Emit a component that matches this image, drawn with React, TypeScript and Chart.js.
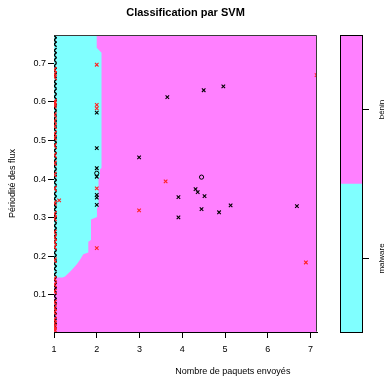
import React, { useEffect, useRef } from "react";
import { Chart, registerables } from "chart.js";

Chart.register(...registerables);

const FONT = "'Liberation Sans', Arial, Helvetica, sans-serif";
const CYAN = "#80FFFF";
const MAGENTA = "#FF80FF";
const BLACK = "#000000";
const RED = "#FF2020";

const titleText = "Classification par SVM";
const xLabel = "Nombre de paquets envoyés";
const yLabel = "Périodité des flux";
const xTicks = [1, 2, 3, 4, 5, 6, 7];
const yTicks = [0.1, 0.2, 0.3, 0.4, 0.5, 0.6, 0.7];
const xRange = [1, 7.15];
const yRange = [0.004, 0.773];

const classNames = ["malware", "bénin"];
const classShare = [1, 1];

// decision region (malware) boundary
const boundaryX = [0.99, 1.999, 1.999, 2.111, 2.111, 2.076, 2.076, 2.041, 2.041, 2.006, 2.006, 1.865, 1.865, 1.802, 1.802, 1.685, 1.6, 1.538, 1.45, 1.374, 1.257, 1.2, 0.99];
const boundaryY = [0.78, 0.78, 0.74, 0.727, 0.429, 0.425, 0.405, 0.4, 0.328, 0.325, 0.302, 0.295, 0.242, 0.238, 0.21, 0.205, 0.19, 0.18, 0.169, 0.16, 0.148, 0.145, 0.145];

// support vectors, class "malware" (black x)
const svBlackX = [2.0, 2.0, 2.0, 2.0, 2.0, 2.0, 2.0, 3.65, 2.99, 4.5, 4.96, 4.31, 4.36, 4.52, 4.45, 4.86, 5.13, 6.68, 3.91, 3.91];
const svBlackY = [0.572, 0.48, 0.428, 0.406, 0.359, 0.352, 0.333, 0.612, 0.456, 0.63, 0.64, 0.374, 0.366, 0.356, 0.322, 0.314, 0.332, 0.33, 0.353, 0.301];
// support vectors, class "bénin" (red x)
const svRedX = [2.0, 2.0, 2.0, 2.0, 2.0, 1.12, 3.61, 2.99, 6.89, 7.14];
const svRedY = [0.696, 0.592, 0.583, 0.376, 0.221, 0.345, 0.394, 0.319, 0.184, 0.669];
// other observations (o)
const obsBlackX = [4.45, 2.0];
const obsBlackY = [0.405, 0.415];

// observations stacked at x = 1
const edgeX = 1;
const edgeBlackY = [0.772, 0.76, 0.749, 0.733, 0.721, 0.708, 0.693, 0.681, 0.668, 0.652, 0.641, 0.627, 0.613, 0.598, 0.584, 0.571, 0.557, 0.543, 0.529, 0.514, 0.501, 0.489, 0.474, 0.46, 0.447, 0.433, 0.419, 0.404, 0.391, 0.377, 0.362, 0.349, 0.333, 0.321, 0.306, 0.293, 0.279, 0.266, 0.251, 0.238, 0.223, 0.209, 0.196, 0.181, 0.168, 0.153, 0.139, 0.124, 0.113, 0.097, 0.085, 0.071, 0.058, 0.046, 0.032, 0.02];
const edgeRedY = [0.683, 0.672, 0.664, 0.601, 0.596, 0.59, 0.566, 0.55, 0.537, 0.518, 0.507, 0.486, 0.462, 0.441, 0.412, 0.375, 0.338, 0.31, 0.298, 0.262, 0.248, 0.236, 0.224, 0.19, 0.142, 0.127, 0.109, 0.081, 0.066, 0.055, 0.036, 0.027, 0.018, 0.011, 0.006];

const pts = (xs: number[], ys: number[]) => xs.map((x, i) => ({ x, y: ys[i] }));
const edgePts = (ys: number[]) => ys.map((y) => ({ x: edgeX, y }));

export default function App() {
  const mainRef = useRef<HTMLCanvasElement>(null);
  const barRef = useRef<HTMLCanvasElement>(null);

  useEffect(() => {
    const bgPlugin = {
      id: "bgPlugin",
      beforeDatasetsDraw(chart: any) {
        const { ctx, chartArea: a } = chart;
        ctx.save();
        ctx.fillStyle = MAGENTA;
        ctx.fillRect(a.left, a.top, a.right - a.left, a.bottom - a.top);
        ctx.restore();
      },
      afterDatasetsDraw(chart: any) {
        const { ctx, chartArea: a } = chart;
        ctx.save();
        ctx.strokeStyle = "#3a3a3a";
        ctx.lineWidth = 1;
        ctx.beginPath();
        ctx.moveTo(a.left + 0.5, a.top + 0.5);
        ctx.lineTo(a.right - 0.5, a.top + 0.5);
        ctx.lineTo(a.right - 0.5, a.bottom - 0.5);
        ctx.stroke();
        ctx.restore();
      },
      afterDraw(chart: any) {
        const { ctx, chartArea: a } = chart;
        ctx.save();
        ctx.fillStyle = "#000";
        ctx.font = `9px ${FONT}`;
        ctx.textAlign = "center";
        ctx.textBaseline = "middle";
        ctx.fillText(xLabel, a.left + (a.right - a.left) * 0.68, 372);
        ctx.restore();
      },
    };

    const ptDs = (data: any[], color: string, style: string, order: number, radius = 2.5, bw = 1.1) => ({
      data,
      pointStyle: style,
      pointRadius: radius,
      pointBorderWidth: bw,
      pointBorderColor: color,
      pointBackgroundColor: "rgba(0,0,0,0)",
      showLine: false,
      clip: 0,
      order,
    });

    const main = new Chart(mainRef.current as HTMLCanvasElement, {
      type: "scatter",
      data: {
        datasets: [
          {
            data: pts(boundaryX, boundaryY),
            showLine: true,
            fill: "shape",
            backgroundColor: CYAN,
            borderWidth: 0,
            borderColor: CYAN,
            pointRadius: 0,
            order: 10,
          } as any,
          ptDs(edgePts(edgeBlackY), BLACK, "crossRot", 5, 3.6, 1.4),
          ptDs(edgePts(edgeRedY), RED, "crossRot", 4, 3.6, 1.4),
          ptDs(pts(svBlackX, svBlackY), BLACK, "crossRot", 3),
          ptDs(pts(svRedX, svRedY), RED, "crossRot", 2),
          ptDs(pts(obsBlackX, obsBlackY), BLACK, "circle", 1, 2.1, 1),
        ],
      },
      options: {
        responsive: false,
        animation: false,
        events: [],
        layout: { padding: { left: 0, top: 0, right: 69, bottom: 0 } },
        plugins: {
          legend: { display: false },
          tooltip: { enabled: false },
          title: {
            display: true,
            text: titleText,
            fullSize: false,
            color: "#000",
            font: { family: FONT, size: 11, weight: "bold" },
            padding: { top: 6, bottom: 15.8 },
          },
        },
        scales: {
          x: {
            type: "linear",
            min: xRange[0],
            max: xRange[1],
            afterBuildTicks: (s: any) => {
              s.ticks = xTicks.map((v) => ({ value: v }));
            },
            afterFit: (s: any) => {
              s.height = 46;
            },
            ticks: {
              color: "#000",
              font: { family: FONT, size: 9 },
              padding: 6,
              maxRotation: 0,
              autoSkip: false,
              callback: (v: any) => String(v),
            },
            grid: { drawOnChartArea: false, tickLength: 6, color: "#000" },
            border: { display: true, color: "#000" },
          },
          y: {
            type: "linear",
            min: yRange[0],
            max: yRange[1],
            afterBuildTicks: (s: any) => {
              s.ticks = yTicks.map((v) => ({ value: v }));
            },
            afterFit: (s: any) => {
              s.width = 54;
            },
            ticks: {
              color: "#000",
              font: { family: FONT, size: 9 },
              padding: 2,
              autoSkip: false,
              callback: (v: any) => Number(v).toFixed(1),
            },
            title: {
              display: true,
              text: yLabel,
              color: "#000",
              font: { family: FONT, size: 9 },
              padding: { top: 7, bottom: 0 },
            },
            grid: { drawOnChartArea: false, tickLength: 6, color: "#000" },
            border: { display: true, color: "#000" },
          },
        },
      },
      plugins: [bgPlugin],
    } as any);

    const barLabels = {
      id: "barLabels",
      afterDraw(chart: any) {
        const { ctx, chartArea: a } = chart;
        const ys = chart.scales.y;
        ctx.save();
        ctx.strokeStyle = "#000";
        ctx.lineWidth = 1;
        ctx.strokeRect(a.left + 0.5, a.top + 0.5, a.right - a.left - 1, a.bottom - a.top - 1);
        ctx.fillStyle = "#000";
        ctx.font = `8px ${FONT}`;
        ctx.textAlign = "center";
        ctx.textBaseline = "middle";
        let acc = 0;
        classNames.forEach((name, i) => {
          const mid = acc + classShare[i] / 2;
          acc += classShare[i];
          const py = ys.getPixelForValue(mid);
          ctx.save();
          ctx.translate(a.right + 19, py);
          ctx.rotate(-Math.PI / 2);
          ctx.fillText(name, 0, 0);
          ctx.restore();
        });
        ctx.restore();
      },
    };

    const bar = new Chart(barRef.current as HTMLCanvasElement, {
      type: "bar",
      data: {
        labels: [""],
        datasets: classNames.map((name, i) => ({
          label: name,
          data: [classShare[i]],
          backgroundColor: i === 0 ? CYAN : MAGENTA,
          borderWidth: 0,
          barPercentage: 1,
          categoryPercentage: 1,
        })),
      },
      options: {
        responsive: false,
        animation: false,
        events: [],
        layout: { padding: { left: 340, top: 35, right: 0, bottom: 45 } },
        plugins: { legend: { display: false }, tooltip: { enabled: false }, title: { display: false } },
        scales: {
          x: { stacked: true, display: false },
          y: {
            stacked: true,
            position: "right",
            min: 0,
            max: classShare.reduce((s, v) => s + v, 0),
            afterBuildTicks: (s: any) => {
              let acc = 0;
              s.ticks = classShare.map((v) => {
                const t = { value: acc + v / 2 };
                acc += v;
                return t;
              });
            },
            afterFit: (s: any) => {
              s.width = 23;
            },
            ticks: { display: true, callback: () => "", padding: 0 },
            grid: { drawOnChartArea: false, tickLength: 6, color: "#000" },
            border: { display: false },
          },
        },
      },
      plugins: [barLabels],
    } as any);

    return () => {
      main.destroy();
      bar.destroy();
    };
  }, []);

  return (
    <div style={{ position: "fixed", left: 0, top: 0, width: 386, height: 378, background: "#fff" }}>
      <canvas ref={mainRef} width={386} height={378} style={{ position: "absolute", left: 0, top: 0 }} />
      <canvas ref={barRef} width={386} height={378} style={{ position: "absolute", left: 0, top: 0 }} />
    </div>
  );
}
